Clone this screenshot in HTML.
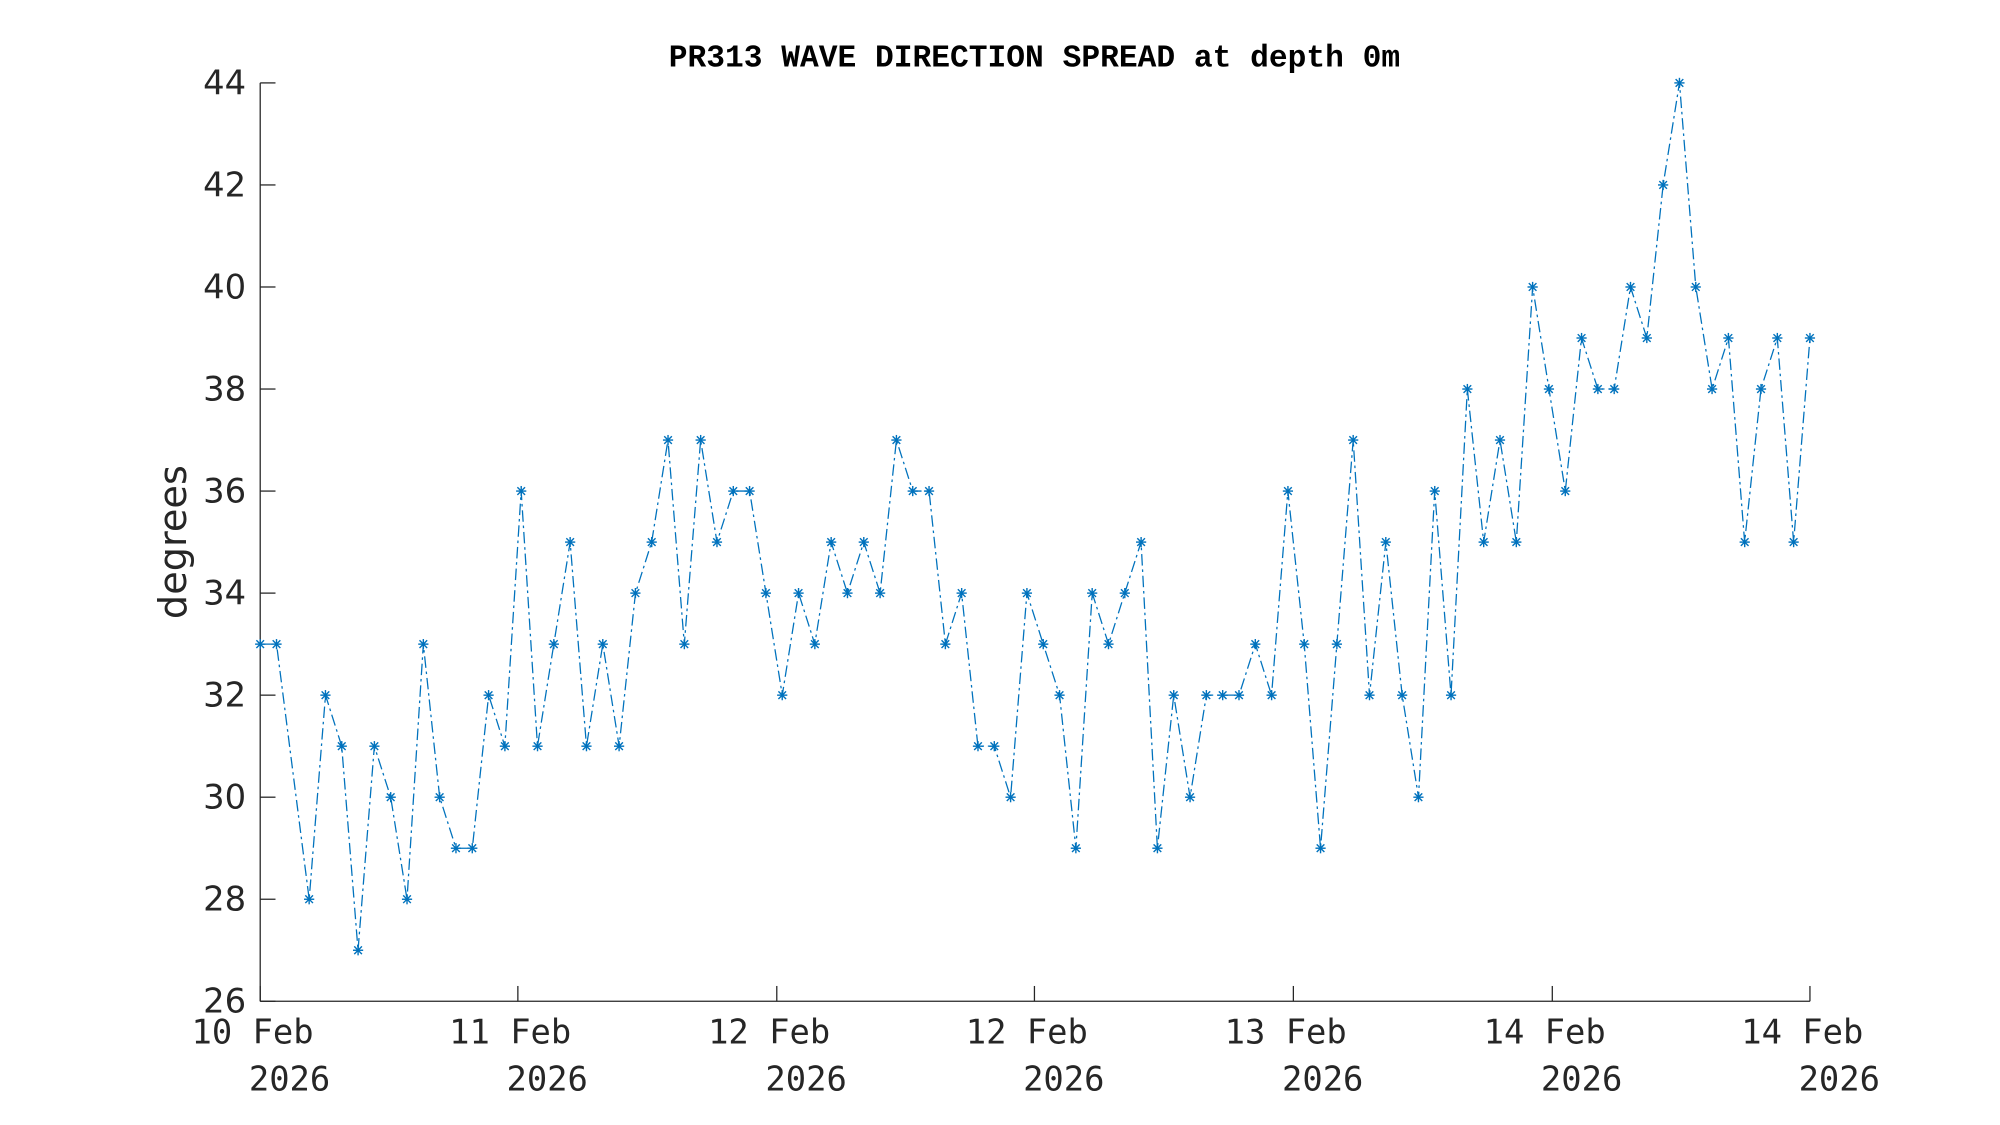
<!DOCTYPE html>
<html><head><meta charset="utf-8"><style>body{margin:0;background:#fff}svg{display:block}</style></head>
<body>
<svg id="s" xmlns="http://www.w3.org/2000/svg" width="2000" height="1125" viewBox="0 0 1568 882">
<rect width="1568" height="882" fill="#fff"/>
<text x="811" y="52" text-anchor="middle" font-family="Liberation Mono, monospace" font-weight="bold" font-size="24.5" fill="#000">PR313 WAVE DIRECTION SPREAD at depth 0m</text>
<g stroke="#262626" stroke-width="1" fill="none">
<line x1="204" y1="65" x2="204" y2="785"/>
<line x1="204" y1="785" x2="1419" y2="785"/>
</g>
<g id="ticks" stroke="#262626" stroke-width="1"></g>
<g id="labels" font-family="DejaVu Sans, Liberation Sans, sans-serif" font-size="26.5" fill="#262626"></g>
<text transform="translate(146,425) rotate(-90)" text-anchor="middle" font-family="DejaVu Sans, Liberation Sans, sans-serif" font-size="30" fill="#262626">degrees</text>
<polyline id="line" fill="none" stroke="#0072bd" stroke-width="1" stroke-dasharray="9,3,2,3"/>
<g id="marks" stroke="#0072bd" stroke-width="1.1"></g>
</svg>
<script>
var ns="http://www.w3.org/2000/svg";
function el(p,t,a,txt){var e=document.createElementNS(ns,t);for(var k in a)e.setAttribute(k,a[k]);if(txt!==undefined)e.textContent=txt;document.getElementById(p).appendChild(e);}
for(var v=26;v<=44;v+=2){var y=785-(v-26)*40;el("ticks","line",{x1:204,y1:y,x2:216,y2:y});el("labels","text",{x:193,y:y+9,"text-anchor":"end"},v);}
var xt=[204,406,609,811,1014,1217,1419],lab=["10 Feb","11 Feb","12 Feb","12 Feb","13 Feb","14 Feb","14 Feb"];
for(var i=0;i<7;i++){el("ticks","line",{x1:xt[i],y1:785,x2:xt[i],y2:773});
el("labels","text",{x:xt[i]-6,y:818,"text-anchor":"middle","font-family":"DejaVu Sans Mono, Liberation Mono, monospace"},lab[i]);
el("labels","text",{x:xt[i]+23,y:855,"text-anchor":"middle","font-family":"DejaVu Sans Mono, Liberation Mono, monospace"},"2026");}
var d=[33,33,null,28,32,31,27,31,30,28,33,30,29,29,32,31,36,31,33,35,31,33,31,34,35,37,33,37,35,36,36,34,32,34,33,35,34,35,34,37,36,36,33,34,31,31,30,34,33,32,29,34,33,34,35,29,32,30,32,32,32,33,32,36,33,29,33,37,32,35,32,30,36,32,38,35,37,35,40,38,36,39,38,38,40,39,42,44,40,38,39,35,38,39,35,39];
var dx=(1419-204)/(d.length-1),pts=[];
for(var i=0;i<d.length;i++){if(d[i]===null)continue;var x=204+i*dx,y=785-(d[i]-26)*40;pts.push(x.toFixed(1)+","+y);
var r=4;el("marks","line",{x1:x-r,y1:y,x2:x+r,y2:y});el("marks","line",{x1:x,y1:y-r,x2:x,y2:y+r});
el("marks","line",{x1:x-3,y1:y-3,x2:x+3,y2:y+3});el("marks","line",{x1:x-3,y1:y+3,x2:x+3,y2:y-3});}
document.getElementById("line").setAttribute("points",pts.join(" "));
</script>
</body></html>
